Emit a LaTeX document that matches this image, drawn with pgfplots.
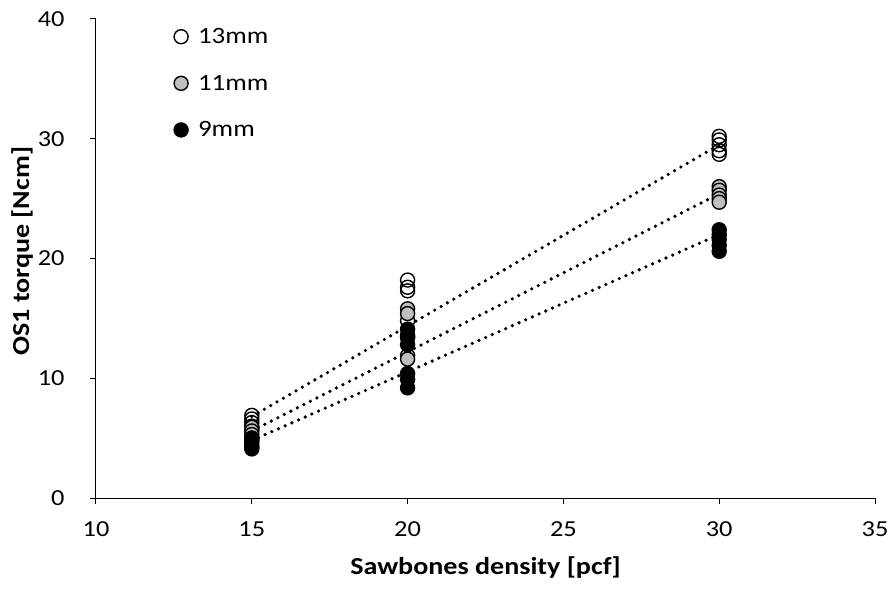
\documentclass[border=0pt]{standalone}
\usepackage{pgfplots}
\pgfplotsset{compat=1.18}
\usepackage{fontspec}
\setmainfont{Carlito}[FakeStretch=1.15]

% OS1 torque measured per pilot-hole size
\pgfplotstableread{
x y
15 6.9
15 6.6
15 6.3
15 6.0
15 5.7
20 18.2
20 17.6
20 17.3
20 14.8
20 13.6
30 30.2
30 29.9
30 29.5
30 29.0
30 28.7
}\tabA
\pgfplotstableread{
x y
15 5.9
15 5.6
15 5.3
15 5.0
15 4.8
20 15.8
20 15.4
20 13.4
20 11.9
20 11.6
30 26.0
30 25.7
30 25.3
30 25.0
30 24.7
}\tabB
\pgfplotstableread{
x y
15 5.0
15 4.7
15 4.4
15 4.2
15 4.1
20 14.1
20 13.5
20 12.8
20 10.4
20 9.9
20 9.2
30 22.4
30 22.0
30 21.6
30 21.1
30 20.6
}\tabC

\newcommand{\legfont}{\fontsize{23.5}{28}\selectfont}

\begin{document}
\begin{tikzpicture}
\begin{axis}[
  name=main,
  scale only axis,
  width=779bp, height=479bp,
  xmin=10, xmax=35, ymin=0, ymax=40,
  xtick={10,15,...,35}, ytick={0,10,...,40},
  axis x line*=bottom, axis y line*=left,
  axis line style={line width=1bp},
  tick align=outside, major tick length=6bp,
  tick style={line width=1bp, black},
  /pgf/number format/assume math mode=true,
  tick label style={font=\fontsize{23}{27}\selectfont},
  xticklabel style={yshift=-14bp},
  yticklabel style={xshift=-22bp},
  xlabel={\textbf{Sawbones density [pcf]}},
  ylabel={\textbf{OS1 torque [Ncm]}},
  label style={font=\fontsize{24.5}{29}\selectfont},
  xlabel style={at={(axis description cs:0.5,0)}, anchor=base, yshift=-76bp},
  ylabel style={at={(axis description cs:-0.086,0.515)}, anchor=base, rotate=0},
  legend style={at={(axis description cs:0.100,0.985)}, anchor=north west,
    draw=none, fill=none,
    font=\legfont, row sep=26bp, inner sep=0pt,
    /tikz/every odd column/.append style={column sep=8bp}},
  legend cell align=left,
  legend image code/.code={\draw[#1] plot coordinates {(0bp,0bp)};},
  pt/.style={only marks, mark=*, mark size=7bp,
    mark options={line width=1.4bp, draw=black, fill=#1}},
  trend/.style={no marks, black, line width=3.6bp, line cap=round,
    dash pattern=on 0bp off 7.3bp, forget plot},
]
\addplot[pt=white, mark=o] table {\tabA};
\addlegendentry{13mm}
\addplot[pt=black!25] table {\tabB};
\addlegendentry{11mm}
\addplot[pt=black] table {\tabC};
\addlegendentry{9mm}

% linear trend lines
\addplot[trend] coordinates {(15,6.8) (30,29.5)};
\addplot[trend] coordinates {(15,5.6) (30,25.4)};
\addplot[trend] coordinates {(15,4.8) (30,22.0)};
\end{axis}
\pgfresetboundingbox
\useasboundingbox ([shift={(-96bp,-94bp)}]main.south west)
  rectangle ([shift={(18bp,19bp)}]main.north east);
\end{tikzpicture}
\end{document}
